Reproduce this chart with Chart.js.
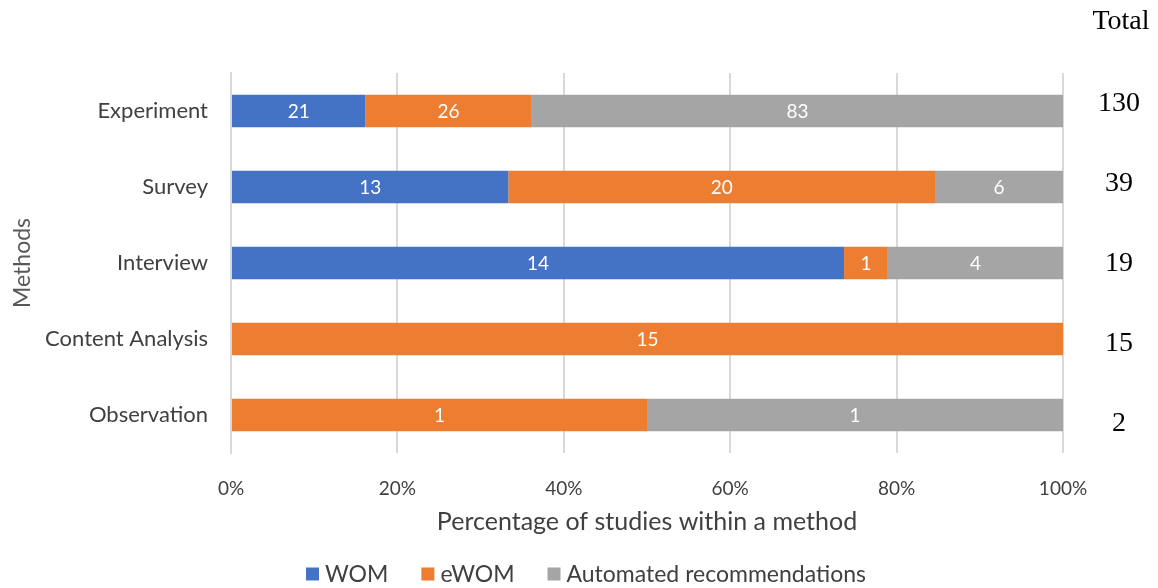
<!DOCTYPE html>
<html lang="en">
  <head>
    <meta charset="UTF-8" />
    <title>Methods</title>
    <script src="https://cdn.jsdelivr.net/npm/chart.js@4/dist/chart.umd.min.js"></script>
    <style>
      html, body { margin: 0; padding: 0; background: #fff; }
      #wrap { width: 1158px; height: 588px; position: relative; }
    </style>
  </head>
  <body>
    <div id="wrap"><canvas id="chart"></canvas></div>
    <script>
      const methods = ["Experiment", "Survey", "Interview", "Content Analysis", "Observation"];
      const wom = [21, 13, 14, 0, 0];
      const ewom = [26, 20, 1, 15, 1];
      const automated = [83, 6, 4, 0, 1];
      const totals = [130, 39, 19, 15, 2];
      const xTicks = ["0%", "20%", "40%", "60%", "80%", "100%"];

      const pct = (arr) => arr.map((v, i) => (v / totals[i]) * 100);

      const FONT = "Lato, 'Open Sans', sans-serif";

      // counts inside each segment, totals on the right, legend at the bottom
      const labelsPlugin = {
        id: "labels",
        afterDatasetsDraw(chart) {
          const ctx = chart.ctx;
          ctx.save();
          ctx.font = "19px " + FONT;
          ctx.fillStyle = "#fff";
          ctx.textAlign = "center";
          ctx.textBaseline = "middle";
          chart.data.datasets.forEach((ds, di) => {
            const meta = chart.getDatasetMeta(di);
            meta.data.forEach((bar, i) => {
              const n = ds.counts[i];
              if (!n) return;
              const p = bar.getProps(["x", "y", "base"], true);
              ctx.fillText(String(n), (p.x + p.base) / 2, p.y + 1);
            });
          });
          const y = chart.scales.y;
          ctx.fillStyle = "#000";
          ctx.font = "28px 'Liberation Serif', serif";
          totals.forEach((t, i) => {
            ctx.fillText(String(t), 1119, y.getPixelForValue(i) - 7 + 4 * i);
          });
          ctx.fillText("Total", 1121, 22);

          // legend
          ctx.font = "23px " + FONT;
          ctx.textAlign = "left";
          const box = 13, gap = 6, itemGap = 33;
          const widths = chart.data.datasets.map((ds) => box + gap + ctx.measureText(ds.label).width);
          const full = widths.reduce((a, b) => a + b, 0) + itemGap * (widths.length - 1);
          let lx = 586 - full / 2;
          const ly = 574;
          chart.data.datasets.forEach((ds, di) => {
            ctx.fillStyle = ds.backgroundColor;
            ctx.fillRect(lx, ly - box / 2, box, box);
            ctx.fillStyle = "#404040";
            ctx.fillText(ds.label, lx + box + gap, ly + 1);
            lx += widths[di] + itemGap;
          });
          ctx.restore();
        },
      };

      const ctx = document.getElementById("chart").getContext("2d");
      new Chart(ctx, {
        type: "bar",
        data: {
          labels: methods,
          datasets: [
            { label: "WOM", data: pct(wom), counts: wom, backgroundColor: "#4472C4" },
            { label: "eWOM", data: pct(ewom), counts: ewom, backgroundColor: "#ED7D31" },
            { label: "Automated recommendations", data: pct(automated), counts: automated, backgroundColor: "#A5A5A5" },
          ],
        },
        options: {
          indexAxis: "y",
          responsive: true,
          maintainAspectRatio: false,
          animation: false,
          categoryPercentage: 1,
          barPercentage: 0.43,
          layout: { padding: { top: 73, right: 95, left: 0, bottom: 0 } },
          scales: {
            x: {
              stacked: true,
              min: 0,
              max: 100,
              ticks: {
                stepSize: 20,
                padding: 24,
                color: "#404040",
                font: { family: FONT, size: 19 },
                callback: (v, i) => xTicks[i],
              },
              grid: { color: "#d9d9d9", lineWidth: 2, drawTicks: false },
              border: { display: false },
              title: {
                display: true,
                text: "Percentage of studies within a method",
                color: "#404040",
                font: { family: FONT, size: 25 },
                padding: { top: 4, bottom: 51 },
              },
              afterFit: (s) => { s.height = 135; },
            },
            y: {
              stacked: true,
              ticks: {
                padding: 15,
                color: "#404040",
                font: { family: FONT, size: 22 },
              },
              grid: { display: false },
              border: { display: true, color: "#d9d9d9", width: 2 },
              title: {
                display: true,
                text: "Methods",
                color: "#595959",
                font: { family: FONT, size: 23 },
                padding: { top: 9, bottom: 0 },
              },
              afterFit: (s) => { s.width = 231; },
            },
          },
          plugins: {
            legend: { display: false },
            tooltip: { enabled: false },
          },
        },
        plugins: [labelsPlugin],
      });
    </script>
  </body>
</html>
